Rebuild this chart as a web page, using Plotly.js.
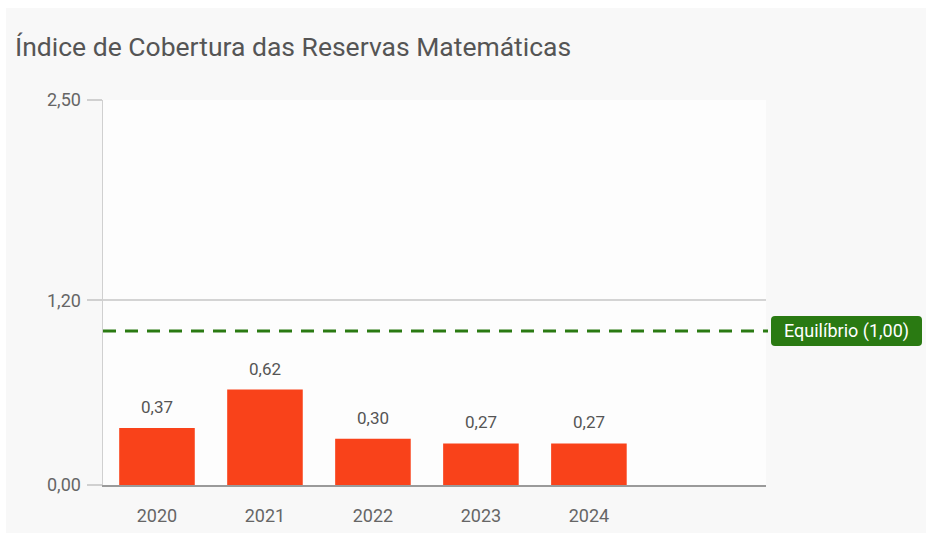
<!DOCTYPE html>
<html>
<head>
<meta charset="utf-8">
<script src="https://cdn.plot.ly/plotly-3.0.1.min.js"></script>
<style>
  html, body { margin: 0; padding: 0; background: #ffffff; width: 930px; height: 533px; overflow: hidden; }
  #chart { position: absolute; left: 6px; top: 8px; width: 920px; height: 525px; }
</style>
</head>
<body>
<div id="chart"></div>
<script>
// ---- data ----
const years = ['2020', '2021', '2022', '2023', '2024'];
const indice = [0.37, 0.62, 0.30, 0.27, 0.27];
const tickVals = [0, 1.2, 2.5];
const tickText = ['0,00', '1,20', '2,50'];
const equilibrio = 1.0;
const equilibrioLabel = 'Equilíbrio (1,00)';
const titleText = 'Índice de Cobertura das Reservas Matemáticas';

const fmt = v => v.toFixed(2).replace('.', ',');

const W = 920, H = 525;
const margin = { l: 97, r: 160, t: 92, b: 48 };
const plotW = W - margin.l - margin.r;
const yMax = 2.5;
const plotH = H - margin.t - margin.b;
const pxPerUnit = plotH / yMax;

const trace = {
  type: 'bar',
  x: years,
  y: indice,
  marker: { color: '#F9421A' },
  hoverinfo: 'skip',
  showlegend: false
};

// category index used as x so numeric-looking names are not read as numbers
const labelAnnotations = years.map((yr, i) => ({
  x: i, y: indice[i], xref: 'x', yref: 'y',
  text: fmt(indice[i]),
  showarrow: false, yanchor: 'bottom', yshift: 9,
  font: { family: 'Roboto, sans-serif', size: 17, color: '#555555' }
}));

// Equilibrium label box (rounded) drawn as a path in paper-x / data-y
const bx0 = (771 - 6 - margin.l) / plotW;
const bx1 = (922 - 6 - margin.l) / plotW;
const halfH = 15 / pxPerUnit;
const rx = 4 / plotW, ry = 4 / pxPerUnit;
const by0 = equilibrio - halfH, by1 = equilibrio + halfH;
const boxPath = `M ${bx0 + rx} ${by0} L ${bx1 - rx} ${by0} Q ${bx1} ${by0} ${bx1} ${by0 + ry} ` +
  `L ${bx1} ${by1 - ry} Q ${bx1} ${by1} ${bx1 - rx} ${by1} L ${bx0 + rx} ${by1} ` +
  `Q ${bx0} ${by1} ${bx0} ${by1 - ry} L ${bx0} ${by0 + ry} Q ${bx0} ${by0} ${bx0 + rx} ${by0} Z`;

const layout = {
  width: W, height: H,
  margin: margin,
  paper_bgcolor: '#f8f8f8',
  plot_bgcolor: '#fdfdfd',
  separators: ',.',
  font: { family: 'Roboto, sans-serif', color: '#666666' },
  title: {
    text: titleText,
    font: { family: 'Roboto, sans-serif', size: 26.5, color: '#555555' },
    x: 9 / W, xref: 'container', xanchor: 'left',
    y: 1 - 39 / H, yref: 'container', yanchor: 'middle'
  },
  bargap: 0.3,
  xaxis: {
    type: 'category',
    range: [-0.5, 5.64],
    showgrid: false,
    zeroline: false,
    showline: true, linecolor: '#9a9a9a', linewidth: 1.5,
    ticks: '',
    ticklabelstandoff: 14,
    tickfont: { family: 'Roboto, sans-serif', size: 18, color: '#666666' },
    fixedrange: true
  },
  yaxis: {
    range: [0, yMax],
    tickvals: tickVals,
    ticktext: tickText,
    showgrid: true, gridcolor: '#d4d4d4', gridwidth: 1.5,
    zeroline: false,
    showline: true, linecolor: '#d0d0d0', linewidth: 1.5,
    ticks: 'outside', ticklen: 15, tickcolor: '#d0d0d0', tickwidth: 1.5,
    ticklabelstandoff: 2,
    tickfont: { family: 'Roboto, sans-serif', size: 18, color: '#666666' },
    fixedrange: true
  },
  shapes: [
    {
      type: 'line', xref: 'paper', yref: 'y',
      x0: 0, x1: (768 - 6 - margin.l) / plotW, y0: equilibrio, y1: equilibrio,
      line: { color: '#2A7A12', width: 3, dash: '13px,9px' }
    },
    {
      type: 'path', xref: 'paper', yref: 'y',
      path: boxPath,
      fillcolor: '#2A7A12', line: { width: 0 }
    }
  ],
  annotations: labelAnnotations.concat([{
    xref: 'paper', yref: 'y',
    x: (bx0 + bx1) / 2, y: equilibrio,
    xanchor: 'center', yanchor: 'middle',
    text: equilibrioLabel, showarrow: false,
    font: { family: 'Roboto, sans-serif', size: 18, color: '#ffffff' }
  }])
};

Plotly.newPlot('chart', [trace], layout, { displayModeBar: false, staticPlot: true });
</script>
</body>
</html>
